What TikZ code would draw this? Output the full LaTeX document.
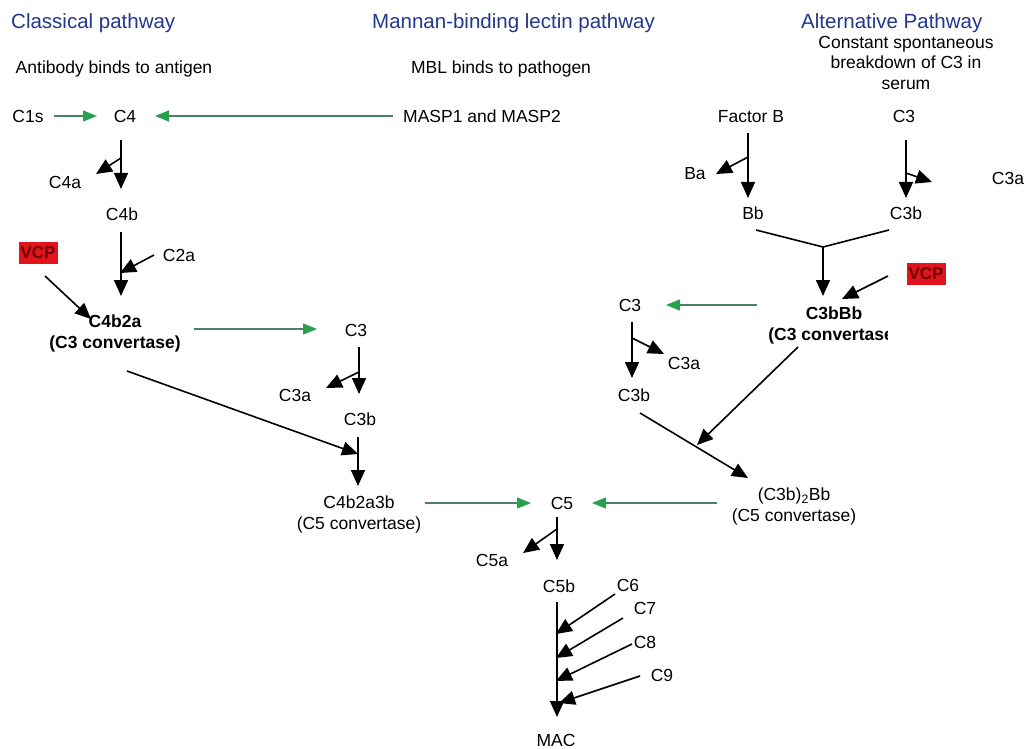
\documentclass[tikz,border=0pt]{standalone}
\usepackage{fontspec}
\setmainfont{Liberation Sans}
\usetikzlibrary{arrows.meta}
\definecolor{ttl}{RGB}{35,55,140}
\definecolor{grn}{RGB}{70,130,95}
\definecolor{grntip}{RGB}{40,160,80}
\definecolor{vcpred}{RGB}{225,20,30}
\definecolor{vcptext}{RGB}{110,0,0}
\begin{document}
\begin{tikzpicture}[x=1pt,y=-1pt,
 lbl/.style={inner sep=0pt, font=\fontsize{17.5}{20}\selectfont, text height=12.6pt, text depth=0pt},
 two/.style={inner sep=0pt, font=\fontsize{17.5}{20.5}\selectfont, align=center, anchor=north},
 ttlstyle/.style={inner sep=0pt, font=\fontsize{20.5}{24}\selectfont, text=ttl, anchor=west, text height=14.7pt, text depth=0pt},
 blk/.style={line width=1.6pt, -{Triangle[length=16pt,width=14pt]}},
 bline/.style={line width=1.6pt},
 gar/.style={draw=grn, line width=1.3pt, -{Triangle[length=14pt,width=11pt,color=grntip]}},
 vcpbox/.style={fill=vcpred, text=vcptext, font=\fontsize{17}{17}\selectfont\bfseries, inner sep=0pt, minimum width=39pt, minimum height=22pt}
]
\useasboundingbox (0,0) rectangle (1029,749);

% titles
\node[ttlstyle] (tcl) at (11,21) {Classical pathway};
\node[ttlstyle] (tmbl) at (372,21) {Mannan-binding lectin pathway};
\node[ttlstyle] (talt) at (801,21) {Alternative Pathway};

% subtitles
\node[lbl] (ab) at (114,67) {Antibody binds to antigen};
\node[lbl] (mbl) at (501,67) {MBL binds to pathogen};
\node[two] (csb) at (906,36) {Constant spontaneous\\breakdown of C3 in\\serum};

% classical
\node[lbl] (c1s) at (28,116) {C1s};
\node[lbl] (c4) at (125,116) {C4};
\node[lbl] (masp) at (482,116) {MASP1 and MASP2};
\node[lbl] (c4a) at (65,182) {C4a};
\node[lbl] (c4b) at (122,214) {C4b};
\node[lbl] (c2a) at (179,255) {C2a};
\node[vcpbox] (vcpl) at (38,253) {VCP};
\node[two, font=\fontsize{17.5}{20.5}\selectfont\bfseries] (c4b2a) at (115,315) {C4b2a\\(C3 convertase)};

\coordinate (g1s) at (54,116); \coordinate (g1e) at (97,116);
\draw[gar] (g1s) -- (g1e);
\coordinate (g2s) at (393,116); \coordinate (g2e) at (155,116);
\draw[gar] (g2s) -- (g2e);

\coordinate (c4top) at (121,140); \coordinate (c4bot) at (121,189);
\coordinate (c4br) at (121,158); \coordinate (c4at) at (96,174);
\draw[blk] (c4top) -- (c4bot);
\draw[blk] (c4br) -- (c4at);

\coordinate (c4btop) at (121,232); \coordinate (c4bbot) at (121,296);
\draw[blk] (c4btop) -- (c4bbot);
\coordinate (c2as) at (154,255); \coordinate (c2ae) at (120,273);
\draw[blk] (c2as) -- (c2ae);
\coordinate (vls) at (45,276); \coordinate (vle) at (91,319);
\draw[blk] (vls) -- (vle);

\coordinate (g3s) at (194,329); \coordinate (g3e) at (317,329);
\draw[gar] (g3s) -- (g3e);

% middle C3
\node[lbl] (c3m) at (356,330) {C3};
\node[lbl] (c3am) at (295,395) {C3a};
\node[lbl] (c3bm) at (360,419) {C3b};
\coordinate (c3mtop) at (359,347); \coordinate (c3mbot) at (359,394);
\coordinate (c3mbr) at (359,372); \coordinate (c3mat) at (326,388);
\draw[blk] (c3mtop) -- (c3mbot);
\draw[blk] (c3mbr) -- (c3mat);

\coordinate (c3bmtop) at (358,437); \coordinate (c3bmbot) at (358,486);
\draw[blk] (c3bmtop) -- (c3bmbot);
\coordinate (l1s) at (127,371); \coordinate (l1e) at (358,454);
\draw[blk] (l1s) -- (l1e);

\node[two] (c5cl) at (359,496) {C4b2a3b\\(C5 convertase)};
\coordinate (g4s) at (425,503); \coordinate (g4e) at (531,503);
\draw[gar] (g4s) -- (g4e);

% C5
\node[lbl] (c5) at (562,503) {C5};
\coordinate (g5s) at (717,503); \coordinate (g5e) at (592,503);
\draw[gar] (g5s) -- (g5e);
\node[lbl] (c5a) at (492,560) {C5a};
\node[lbl] (c5b) at (559,586) {C5b};
\coordinate (c5top) at (557,517); \coordinate (c5bot) at (557,560);
\coordinate (c5br) at (557,529); \coordinate (c5at) at (523,553);
\draw[blk] (c5top) -- (c5bot);
\draw[blk] (c5br) -- (c5at);

\node[lbl] (c6) at (628,585) {C6};
\node[lbl] (c7) at (645,608) {C7};
\node[lbl] (c8) at (645,642) {C8};
\node[lbl] (c9) at (662,675) {C9};
\node[lbl] (mac) at (556,740) {MAC};
\coordinate (c5btop) at (557,602); \coordinate (c5bbot) at (557,717);
\draw[blk] (c5btop) -- (c5bbot);
\coordinate (c6s) at (615,594); \coordinate (c6e) at (556,634);
\coordinate (c7s) at (623,618); \coordinate (c7e) at (556,658);
\coordinate (c8s) at (632,644); \coordinate (c8e) at (556,681);
\coordinate (c9s) at (640,676); \coordinate (c9e) at (559,703);
\draw[blk] (c6s) -- (c6e);
\draw[blk] (c7s) -- (c7e);
\draw[blk] (c8s) -- (c8e);
\draw[blk] (c9s) -- (c9e);

% alternative
\node[lbl] (fb) at (751,116) {Factor B};
\node[lbl] (c3r) at (904,116) {C3};
\node[lbl] (ba) at (695,173) {Ba};
\node[lbl] (c3ar) at (1008,178) {C3a};
\node[lbl] (bb) at (753,213) {Bb};
\node[lbl] (c3br) at (906,213) {C3b};
\coordinate (fbtop) at (748,133); \coordinate (fbbot) at (748,198);
\coordinate (fbbr) at (748,157); \coordinate (bat) at (716,174);
\draw[blk] (fbtop) -- (fbbot);
\draw[blk] (fbbr) -- (bat);
\coordinate (c3rtop) at (906,140); \coordinate (c3rbot) at (906,198);
\coordinate (c3rbr) at (906,173); \coordinate (c3rat) at (932,182);
\draw[blk] (c3rtop) -- (c3rbot);
\draw[blk] (c3rbr) -- (c3rat);

\coordinate (jl) at (756,230); \coordinate (jr) at (889,230);
\coordinate (jc) at (823,247); \coordinate (jbot) at (823,296);
\draw[bline] (jl) -- (jc) -- (jr);
\draw[blk] (jc) -- (jbot);

\node[vcpbox] (vcpr) at (926,274) {VCP};
\coordinate (vrs) at (888,276); \coordinate (vre) at (842,299);
\draw[blk] (vrs) -- (vre);

\begin{scope}
\clip (700,300) rectangle (887,360);
\node[two, font=\fontsize{17.5}{20.5}\selectfont\bfseries] (c3bbb) at (834,307) {C3bBb\\(C3 convertase)};
\end{scope}

\coordinate (g6s) at (757,305); \coordinate (g6e) at (666,305);
\draw[gar] (g6s) -- (g6e);
\node[lbl] (c3l) at (630,305) {C3};
\node[lbl] (c3al) at (684,363) {C3a};
\node[lbl] (c3bl) at (634,395) {C3b};
\coordinate (c3ltop) at (632,322); \coordinate (c3lbot) at (632,378);
\coordinate (c3lbr) at (632,338); \coordinate (c3lat) at (664,354);
\draw[blk] (c3ltop) -- (c3lbot);
\draw[blk] (c3lbr) -- (c3lat);

\coordinate (l2s) at (640,413); \coordinate (l2e) at (748,478);
\draw[blk] (l2s) -- (l2e);
\coordinate (l3s) at (798,347); \coordinate (l3e) at (697,445);
\draw[blk] (l3s) -- (l3e);

\node[two] (c5cr) at (794,488) {(C3b)\textsubscript{2}Bb\\(C5 convertase)};
\end{tikzpicture}
\end{document}
